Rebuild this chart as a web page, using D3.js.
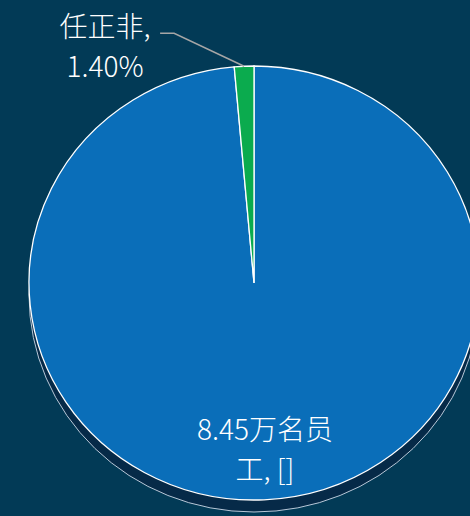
<!DOCTYPE html>
<html>
<head>
<meta charset="utf-8">
<script src="https://cdn.jsdelivr.net/npm/d3@7"></script>
<style>
  html, body { margin: 0; padding: 0; background: #023a56; }
  svg { display: block; }
  .lbl { font-family: "Noto Sans CJK SC", "Noto Sans", sans-serif; font-weight: 300; fill: #ffffff; font-size: 28px; }
</style>
</head>
<body>
<script>
var width = 470,
    height = 516,
    cx = 254,
    cy = 283,
    rx = 225,
    ry = 217,
    depth = 12;

// data
var names = ["8.45万名员工", "任正非"];
var shares = [98.60, 1.40];
var labelLines = [["8.45万名员", "工, []"], ["任正非,", "1.40%"]];
var colors = ["#0a6eb9", "#0bab4e"];

var pie = d3.pie()
    .sort(null)
    .value(function(d) { return d.v; });

var arcs = pie(names.map(function(n, i) { return {name: n, v: shares[i], i: i}; }));

var arc = d3.arc()
    .innerRadius(0)
    .outerRadius(rx);

var svg = d3.select("body").append("svg")
    .attr("width", width)
    .attr("height", height);

// side / depth of the pie
svg.append("ellipse")
    .attr("cx", cx)
    .attr("cy", cy + depth)
    .attr("rx", rx)
    .attr("ry", ry)
    .attr("fill", "#062a48")
    .attr("stroke", "#b8c8d8")
    .attr("stroke-width", 1);

var g = svg.append("g")
    .attr("transform", "translate(" + cx + "," + cy + ") scale(1," + (ry / rx) + ")");

g.selectAll(".slice")
    .data(arcs)
  .enter().append("path")
    .attr("class", "slice")
    .attr("fill", function(d) { return colors[d.data.i]; })
    .attr("stroke", "#ffffff")
    .attr("stroke-width", 1.3)
    .attr("vector-effect", "non-scaling-stroke")
    .attr("d", arc);

// leader line for the small slice
var small = arcs[1];
var mid = (small.startAngle + small.endAngle) / 2;
var px = cx + rx * Math.sin(mid),
    py = cy - ry * Math.cos(mid);
svg.append("polyline")
    .attr("points", [[px, py], [px - 70, py - 33], [px - 84, py - 33]].map(function(p) { return p.join(","); }).join(" "))
    .attr("fill", "none")
    .attr("stroke", "#a6a6a6")
    .attr("stroke-width", 1.5);

// labels
var labelPos = [[cx + 11, cy + 157], [cx - 149, cy - 246]];
labelLines.forEach(function(lines, i) {
  var t = svg.append("text")
      .attr("class", "lbl")
      .attr("text-anchor", "middle")
      .attr("x", labelPos[i][0])
      .attr("y", labelPos[i][1]);
  lines.forEach(function(s, j) {
    t.append("tspan")
      .attr("x", labelPos[i][0])
      .attr("dy", j === 0 ? 0 : 40)
      .text(s);
  });
});
</script>
</body>
</html>
